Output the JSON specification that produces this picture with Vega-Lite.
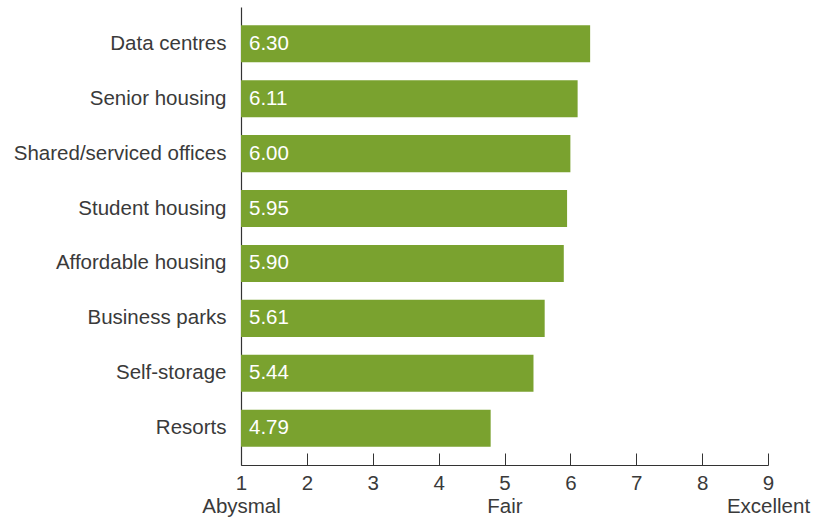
{
  "$schema": "https://vega.github.io/schema/vega-lite/v6.json",
  "autosize": {"type": "none"},
  "padding": {"left": 241, "top": 7, "right": 54, "bottom": 53},
  "width": 527,
  "height": 458,
  "background": "white",
  "config": {
    "view": {"stroke": null},
    "font": "Liberation Sans",
    "axis": {"labelFont": "Liberation Sans", "labelFontSize": 20.5, "labelColor": "#3a3a3a", "domainColor": "#333333", "tickColor": "#333333", "grid": false, "labelLimit": 400}
  },
  "data": {
    "values": [
      {"sector": "Data centres", "score": 6.30, "label": "6.30"},
      {"sector": "Senior housing", "score": 6.11, "label": "6.11"},
      {"sector": "Shared/serviced offices", "score": 6.00, "label": "6.00"},
      {"sector": "Student housing", "score": 5.95, "label": "5.95"},
      {"sector": "Affordable housing", "score": 5.90, "label": "5.90"},
      {"sector": "Business parks", "score": 5.61, "label": "5.61"},
      {"sector": "Self-storage", "score": 5.44, "label": "5.44"},
      {"sector": "Resorts", "score": 4.79, "label": "4.79"}
    ]
  },
  "encoding": {
    "y": {
      "field": "sector", "type": "nominal", "sort": null,
      "scale": {"paddingInner": 0.326, "paddingOuter": 0.333},
      "axis": {"title": null, "ticks": false, "labelPadding": 15, "domainWidth": 1.2}
    }
  },
  "layer": [
    {
      "mark": {"type": "bar", "color": "#7aa22f"},
      "encoding": {
        "x": {
          "field": "score", "type": "quantitative",
          "scale": {"domain": [1, 9], "nice": false, "zero": false},
          "axis": {
            "title": null, "values": [1, 2, 3, 4, 5, 6, 7, 8, 9], "format": "d",
            "tickSize": -12, "labelPadding": 20, "labelBaseline": "top",
            "labelLineHeight": 23, "labelFlush": false, "labelOverlap": false,
            "domainWidth": 1.2,
            "labelExpr": "datum.value == 1 ? ['1', 'Abysmal'] : datum.value == 5 ? ['5', 'Fair'] : datum.value == 9 ? ['9', 'Excellent'] : datum.label"
          }
        },
        "x2": {"datum": 1}
      }
    },
    {
      "mark": {"type": "text", "align": "left", "dx": 8, "color": "white", "fontSize": 20.5, "font": "Liberation Sans"},
      "encoding": {
        "x": {"datum": 1},
        "text": {"field": "label"}
      }
    }
  ]
}
